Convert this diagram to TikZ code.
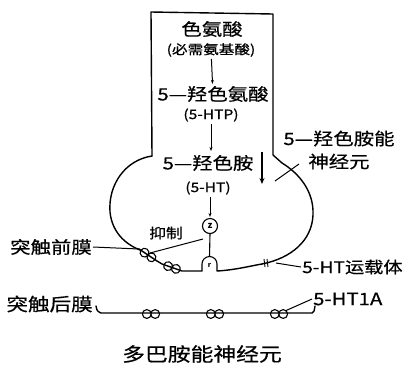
\documentclass[tikz,border=0pt]{standalone}
\usepackage{fontspec}
\setmainfont{Noto Sans CJK SC}
\newfontfamily\widecjk[FakeStretch=1.2,FakeBold=0.6]{Noto Sans CJK SC}
\usetikzlibrary{arrows.meta}
\tikzset{
  outline/.style={line width=1.4pt, line join=round, line cap=round},
  lbl/.style={inner sep=1pt, font=\widecjk\fontsize{17}{19}\selectfont},
  note/.style={inner sep=1pt, font=\widecjk\fontsize{13}{15}\selectfont},
  side/.style={inner sep=1pt, font=\widecjk\fontsize{17}{20}\selectfont},
  flow/.style={line width=1pt, -{Stealth[length=4pt,width=3pt]}, shorten <=1pt, shorten >=1pt},
  pointer/.style={line width=1pt},
  loops/.pic={\draw[line width=1.1pt] (-4.2,0) circle (4.4) (4.2,0) circle (4.4);}
}
\begin{document}
\begin{tikzpicture}[x=1pt,y=-1pt]
\useasboundingbox (0,0) rectangle (409,365);

% ---- serotonergic neuron: axon stalk and soma outline ----
\coordinate (tl) at (151,12);
\coordinate (tr) at (273,14);
\draw[outline] (152,156) -- (tl) -- (tr) -- (273,155)
  -- (282,163) .. controls (300,174) and (314,192) .. (313,215)
  .. controls (312,240) and (292,258) .. (262,264);
\draw[outline] (152,156) .. controls (125,160) and (108,185) .. (110,212)
  .. controls (112,232) and (125,244) .. (140,250);

% ---- synthesis pathway ----
\node[lbl]  (trp)     at (212,29)  {色氨酸};
\node[note] (trpnote) at (211,50)  {(必需氨基酸)};
\node[lbl]  (htp)     at (213,94)  {5—羟色氨酸};
\node[note] (htpnote) at (211,115) {(5-HTP)};
\node[lbl]  (ht)      at (208,163) {5—羟色胺};
\node[note] (htnote)  at (208,188) {(5-HT)};
\draw[flow] (trpnote) -- (htp);
\draw[flow] (htpnote.south -| 211,0) -- (211,152);
\coordinate (dn1) at (262,152);
\coordinate (dn2) at (262,184);
\draw[line width=1.6pt, -{Stealth[length=6pt,width=5pt]}] (dn1) -- (dn2);

% ---- vesicle and release site ----
\node[draw, circle, line width=1.1pt, minimum size=15pt, inner sep=0pt,
      font=\bfseries\fontsize{9}{9}\selectfont] (ves) at (210,226) {z};
\coordinate (relL) at (202,271);
\coordinate (relR) at (217,271);
\coordinate (reltop) at (209.5,256.5);
\draw[line width=1.1pt] (relL) -- (202,264) arc[start angle=180, end angle=360, radius=7.5] -- (relR);
\node[inner sep=0pt, font=\bfseries\fontsize{7}{7}\selectfont] (rel) at (209.5,265) {r};
\draw[flow] (htnote.south -| 210,0) -- (ves.north);
\draw[line width=1.1pt] (ves.south) -- (reltop);

% ---- presynaptic membrane with its two receptor coils ----
\coordinate (c1a) at (139,249);
\coordinate (c1b) at (157,261);
\coordinate (c2a) at (162,264);
\coordinate (c2b) at (182,271);
\draw[outline] (c1a) -- pic[pos=0.5, sloped]{loops} (c1b) -- (c2a)
  -- pic[pos=0.5, sloped]{loops} (c2b) -- (relL);
\draw[outline] (relR) .. controls (235,270) and (250,266) .. (262,264);
% transporter marks
\coordinate (tp1) at (264,259);
\coordinate (tp2) at (267,259);
\draw[line width=0.9pt] (tp1) -- ++(1,8);
\draw[line width=0.9pt] (tp2) -- ++(1,8);

% ---- labels on the presynaptic side ----
\node[side, anchor=east] (pre) at (93,247) {突触前膜};
\draw[pointer] (pre.east) -- (c1a);
\coordinate (inh) at (203,239);
\draw[pointer] (150,253) -- (inh);
\node[note, font=\widecjk\fontsize{14}{15}\selectfont] (inhlbl) at (166,233) {抑制};
\node[side, anchor=west, font=\widecjk\fontsize{16}{18}\selectfont] (trans) at (301,267) {5-HT运载体};
\draw[pointer] (trans.west) -- (276,263);

\node[side, align=center, font=\widecjk\fontsize{17}{23}\selectfont] (neuron) at (339,150) {5—羟色胺能\\神经元};
\coordinate (xa) at (299,164);
\coordinate (xb) at (275,181);
\draw[pointer] (xa) -- (xb);

% ---- postsynaptic membrane with 5-HT1A receptors ----
\node[side, anchor=east, font=\widecjk\fontsize{18}{20}\selectfont] (post) at (94,304) {突触后膜};
\coordinate (p0) at (96,306);
\coordinate (p1) at (101,313);
\coordinate (k1) at (151,314);
\coordinate (k2) at (215,314);
\coordinate (k3) at (279,314);
\coordinate (p2) at (312,313);
\coordinate (p3) at (315,306);
\draw[outline] (p0) .. controls (97,311) .. (p1) -- (p2) .. controls (314,312) .. (p3);
\path (k1) pic{loops} (k2) pic{loops} (k3) pic{loops};
\node[side, anchor=west, font=\widecjk\fontsize{17}{19}\selectfont] (rec) at (312,299) {5-HT1A};
\draw[pointer] (rec.west) -- (285,311);

\node[side, font=\widecjk\fontsize{19}{21}\selectfont] (da) at (202,354) {多巴胺能神经元};
\end{tikzpicture}
\end{document}
